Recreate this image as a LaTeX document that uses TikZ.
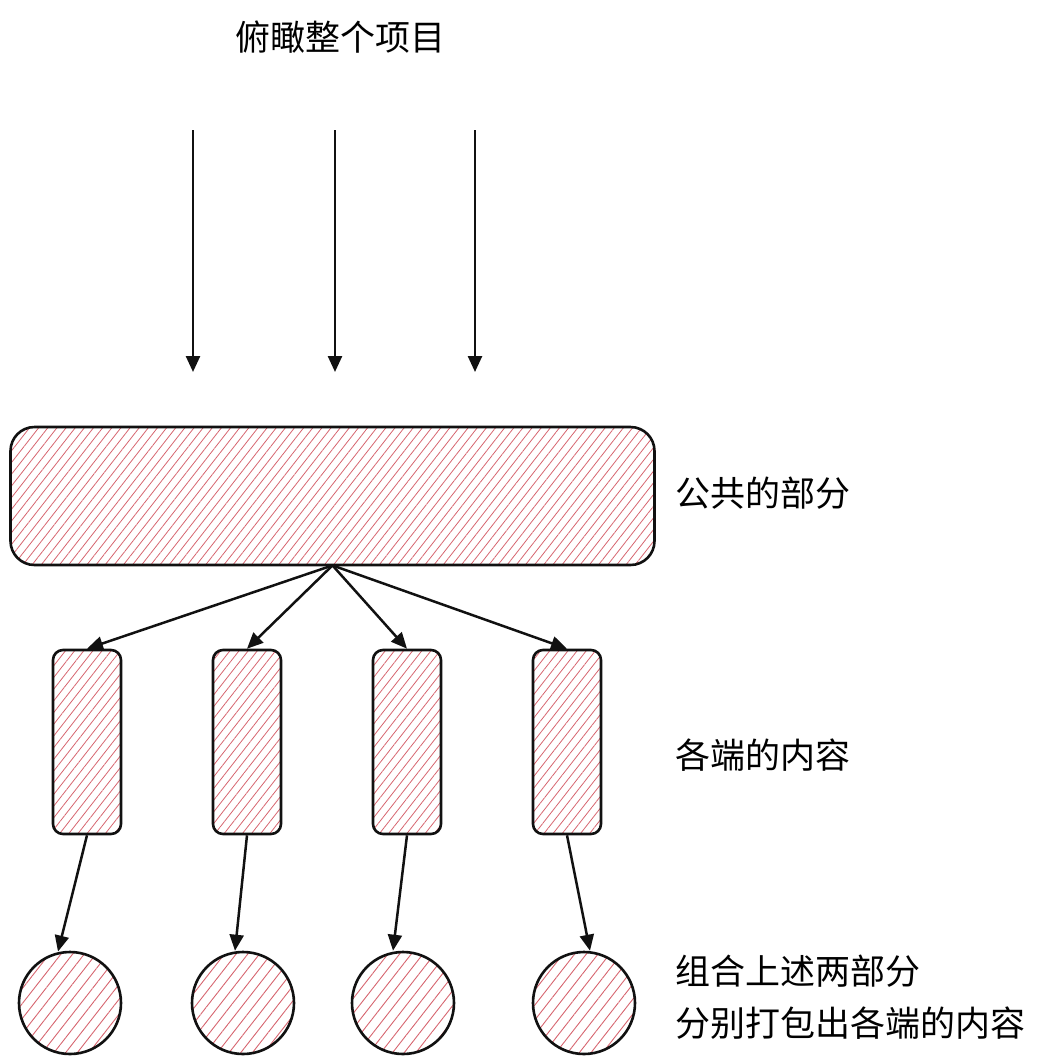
\documentclass[tikz,border=0pt]{standalone}
\usepackage{fontspec}
\setmainfont{Noto Sans CJK SC}
\usepackage{tikz}
\usetikzlibrary{positioning,arrows.meta,patterns.meta}
\definecolor{hatchRed}{HTML}{D6656F}
\definecolor{inkBlack}{HTML}{111111}

\begin{document}
\begin{tikzpicture}[x=0.5pt, y=-0.5pt, >={Triangle[length=8pt, width=7pt]},
      font=\fontsize{17.5}{26}\selectfont,
      hatch/.style={draw=inkBlack, line width=1.3pt,
        pattern={Lines[angle=52, distance=3.6pt, line width=0.4pt]}, pattern color=hatchRed},
      common/.style={hatch, rounded corners=12pt, minimum width=322pt, minimum height=69pt},
      part/.style={hatch, rounded corners=5pt, minimum width=34pt, minimum height=92pt},
      bundle/.style={hatch, circle, minimum size=51pt, pattern={Lines[angle=52, distance=4.6pt, line width=0.45pt]}},
      arr/.style={->, line width=1.25pt, inkBlack},
      label/.style={anchor=west, inner sep=0pt, align=left}]
    \useasboundingbox (0,0) rectangle (1044,1062);
    % ---- looking over the project
    \node[inner sep=0pt] (title) at (340,37) {俯瞰整个项目};
    \foreach \i/\x in {1/193, 2/335, 3/475} {
      \coordinate (from\i) at (\x,130);
      \coordinate (to\i) at (\x,372);
      \draw[arr] (from\i) -- (to\i);
    }
    % ---- shared part
    \node[common] (common) at (332.5,496) {};
    \node[label] (commonText) at (675,493) {公共的部分};
    % ---- one box for each side
    \foreach \i/\x in {1/87, 2/247, 3/407, 4/567} {
      \node[part] (part\i) at (\x,742) {};
      \draw[arr] (common.south) -- (part\i.north);
    }
    \node[label] (partText) at (675,755) {各端的内容};
    % ---- bundles
    \foreach \i/\x/\dx in {1/70/-6, 2/243/-4, 3/403/-5, 4/584/3} {
      \node[bundle] (bundle\i) at (\x,1003) {};
      \draw[arr] (part\i.south) -- ([xshift=\dx pt]bundle\i.north);
    }
    \node[label] (bundleText) at (675,997) {组合上述两部分\\分别打包出各端的内容};
  \end{tikzpicture}
\end{document}
